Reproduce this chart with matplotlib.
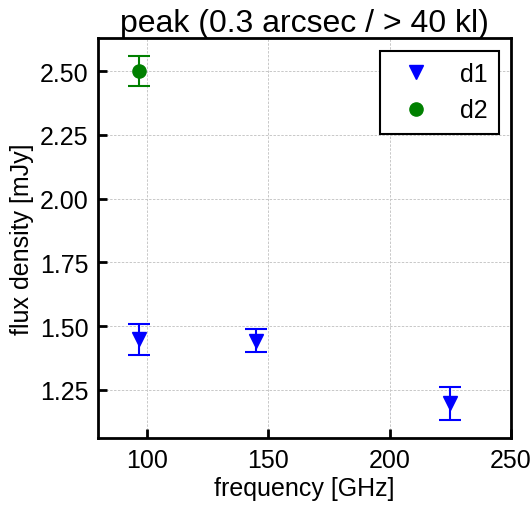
import matplotlib
matplotlib.use("Agg")
import matplotlib.pyplot as plt

plt.rcParams['font.family'] = ['Liberation Sans', 'DejaVu Sans']

d1_freq = [97.0, 145.0, 225.0]
d1_flux = [1.448, 1.444, 1.197]
d1_err = [0.06, 0.046, 0.064]
d2_freq = [97.0]
d2_flux = [2.50]
d2_err = [0.059]

fig = plt.figure(figsize=(5.31, 5.06), dpi=100)
ax = fig.add_axes([98/531, 1-439/506, (511-98)/531, (439-39)/506])

ax.errorbar(d1_freq, d1_flux, yerr=d1_err, fmt='v', color='blue', ms=10,
            capsize=8, elinewidth=1.5, capthick=1.5, label='d1')
ax.errorbar(d2_freq, d2_flux, yerr=d2_err, fmt='o', color='green', ms=9.5,
            capsize=8, elinewidth=1.5, capthick=1.5, label='d2')

ax.set_xlim(80, 250)
ax.set_xticks([100, 150, 200, 250])
ax.set_yticks([1.25, 1.5, 1.75, 2.0, 2.25, 2.5])
ax.yaxis.set_major_formatter(matplotlib.ticker.FormatStrFormatter('%.2f'))
ax.grid(True, linestyle=(0, (2.5, 1.5)), color='#c8c8c8', linewidth=0.7)
ax.tick_params(direction='in', length=6.5, width=2, labelsize=18, pad=7)
for s in ax.spines.values():
    s.set_linewidth(2)

ax.set_xlabel('frequency [GHz]', fontsize=18, labelpad=3)
ax.set_ylabel('flux density [mJy]', fontsize=18, labelpad=4)
ax.set_title('peak (0.3 arcsec / > 40 kl)', fontsize=23, pad=5)

handles, labels = ax.get_legend_handles_labels()
handles = [h[0] for h in handles]
leg = ax.legend(handles, labels, loc='upper right', fontsize=18, fancybox=False,
                edgecolor='black', framealpha=1, handletextpad=0.75, borderpad=0.45,
                borderaxespad=0.5, labelspacing=0.5)
leg.get_frame().set_linewidth(1.5)

fig.savefig('out.png', dpi=100)
